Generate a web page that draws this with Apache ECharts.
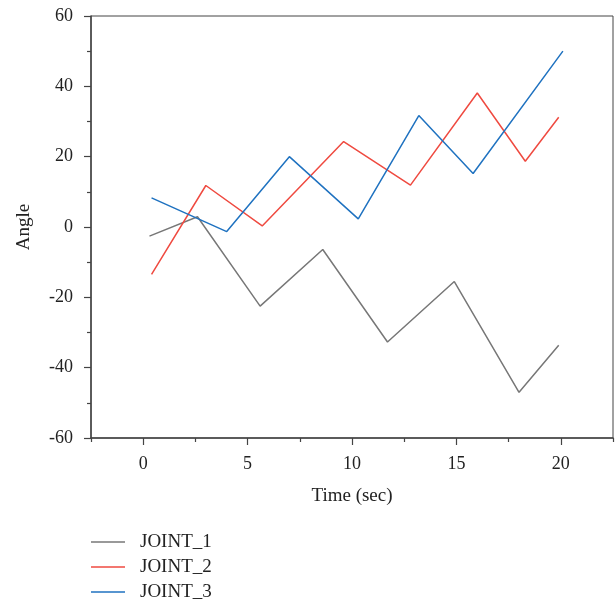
<!DOCTYPE html>
<html>
<head>
<meta charset="utf-8">
<script src="https://cdn.jsdelivr.net/npm/echarts@6/dist/echarts.min.js"></script>
<style>html,body{margin:0;padding:0;background:#fff}#c{width:616px;height:608px}</style>
</head>
<body>
<div id="c"></div>
<script>
const seriesNames = ['JOINT_1', 'JOINT_2', 'JOINT_3'];
const joint1X = [0.3, 2.6, 5.6, 8.6, 11.7, 14.9, 18.0, 19.9];
const joint1Y = [-2.6, 2.9, -22.5, -6.4, -32.7, -15.5, -47.0, -33.6];
const joint2X = [0.4, 3.0, 5.7, 9.6, 12.8, 16.0, 18.3, 19.9];
const joint2Y = [-13.5, 11.8, 0.3, 24.3, 11.9, 38.1, 18.7, 31.2];
const joint3X = [0.4, 4.0, 7.0, 10.3, 13.2, 15.8, 20.1];
const joint3Y = [8.3, -1.3, 20.0, 2.3, 31.7, 15.2, 50.0];
const xMajorTicks = [0, 5, 10, 15, 20];
const xMinorTicks = [-2.5, 2.5, 7.5, 12.5, 17.5, 22.5];

const font = 'Liberation Serif';
const colors = ['#777777', '#ef4a40', '#1f72c0'];
const pairs = (xs, ys) => xs.map((x, i) => [x, ys[i]]);
const allData = [pairs(joint1X, joint1Y), pairs(joint2X, joint2Y), pairs(joint3X, joint3Y)];

const chart = echarts.init(document.getElementById('c'), null, {renderer: 'canvas'});
chart.setOption({
  animation: false,
  backgroundColor: '#fff',
  grid: {left: 91, right: 3, top: 16, bottom: 170, show: true, borderColor: '#444', borderWidth: 1, backgroundColor: 'transparent'},
  legend: {
    orient: 'vertical', left: 91, top: 532, height: 76, itemWidth: 34, itemHeight: 1.5, itemGap: 5,
    icon: 'rect', padding: 0,
    data: seriesNames,
    textStyle: {fontFamily: font, fontSize: 19, color: '#222', lineHeight: 20, padding: [0, 0, 0, 10]}
  },
  xAxis: [{
    type: 'value', min: -2.5, max: 22.5, interval: 2.5,
    name: 'Time (sec)', nameLocation: 'middle', nameGap: 49,
    nameTextStyle: {fontFamily: font, fontSize: 19, color: '#222'},
    axisLine: {show: true, onZero: false, lineStyle: {color: '#444', width: 1.5}},
    axisTick: {show: true, length: 7, customValues: xMajorTicks, lineStyle: {color: '#444', width: 1.2}},
    axisLabel: {customValues: xMajorTicks, margin: 17, fontFamily: font, fontSize: 18, color: '#222'},
    splitLine: {show: false}
  }, {
    type: 'value', min: -2.5, max: 22.5, interval: 2.5, position: 'bottom', gridIndex: 0,
    axisLine: {show: false, onZero: false},
    axisTick: {show: true, length: 4, customValues: xMinorTicks, lineStyle: {color: '#444', width: 1.2}},
    axisLabel: {show: false},
    splitLine: {show: false}
  }],
  yAxis: {
    type: 'value', min: -60, max: 60, interval: 20,
    name: 'Angle', nameLocation: 'middle', nameGap: 57, nameRotate: 90,
    nameTextStyle: {fontFamily: font, fontSize: 19, color: '#222'},
    axisLine: {show: true, onZero: false, lineStyle: {color: '#444', width: 1.5}},
    axisTick: {show: true, length: 7, lineStyle: {color: '#444', width: 1.2}},
    minorTick: {show: true, splitNumber: 2, length: 4, lineStyle: {color: '#444', width: 1.2}},
    axisLabel: {margin: 18, fontFamily: font, fontSize: 18, color: '#222'},
    splitLine: {show: false}
  },
  series: seriesNames.map((n, i) => ({
    name: n, type: 'line', data: allData[i], symbol: 'none', showSymbol: false,
    xAxisIndex: 0, lineStyle: {color: colors[i], width: 1.5}, itemStyle: {color: colors[i]}
  }))
});
</script>
</body>
</html>
